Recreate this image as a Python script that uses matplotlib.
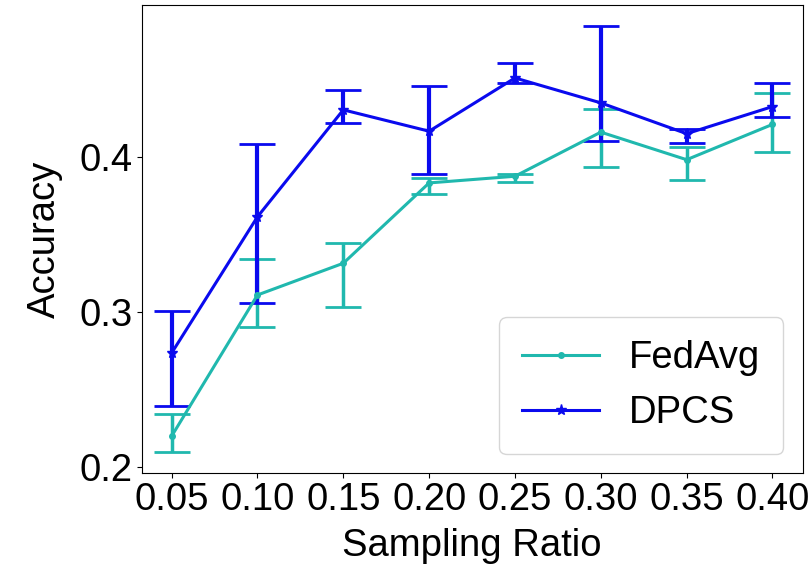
import numpy as np
import matplotlib
matplotlib.use("Agg")
import matplotlib.pyplot as plt

plt.rcParams['font.family'] = ['Liberation Sans', 'DejaVu Sans']

# sampling ratios on the x axis
ratio = [0.05, 0.10, 0.15, 0.20, 0.25, 0.30, 0.35, 0.40]

# FedAvg: mean accuracy with lower / upper ends of the error bars
fedavg_mean = [0.2197, 0.3109, 0.3314, 0.3833, 0.3876, 0.4161, 0.3983, 0.4211]
fedavg_low = [0.2094, 0.2905, 0.3034, 0.3764, 0.3839, 0.3936, 0.3850, 0.4032]
fedavg_high = [0.2341, 0.3339, 0.3442, 0.3867, 0.3893, 0.4312, 0.4064, 0.4417]

# DPCS
dpcs_mean = [0.2734, 0.3614, 0.4305, 0.4167, 0.4511, 0.4350, 0.4151, 0.4326]
dpcs_low = [0.2390, 0.3056, 0.4223, 0.3893, 0.4479, 0.4103, 0.4090, 0.4258]
dpcs_high = [0.3008, 0.4082, 0.4434, 0.4457, 0.4608, 0.4844, 0.4180, 0.4479]

fedavg_mean = np.array(fedavg_mean)
dpcs_mean = np.array(dpcs_mean)
fedavg_err = [fedavg_mean - np.array(fedavg_low), np.array(fedavg_high) - fedavg_mean]
dpcs_err = [dpcs_mean - np.array(dpcs_low), np.array(dpcs_high) - dpcs_mean]

fig = plt.figure(figsize=(8.09, 5.69), dpi=100)
ax = fig.add_axes([0.175, 0.168, 0.817, 0.823])

fa = ax.errorbar(ratio, fedavg_mean, yerr=fedavg_err, color='#20b8ae', marker='.',
                 markersize=8, linewidth=2.2, elinewidth=2.5, capsize=13, capthick=2,
                 label='FedAvg')
dp = ax.errorbar(ratio, dpcs_mean, yerr=dpcs_err, color='#0a0aee', marker='*',
                 markersize=8, linewidth=2.2, elinewidth=3, capsize=13, capthick=2,
                 label='DPCS')

ax.set_xticks(ratio)
ax.set_xticklabels(['%.2f' % r for r in ratio])
ax.set_yticks([0.2, 0.3, 0.4])
ax.tick_params(labelsize=27.5, pad=3)
ax.set_xlabel('Sampling Ratio', fontsize=27.5, labelpad=7)
ax.set_ylabel('Accuracy', fontsize=27.5, labelpad=12)
# legend shows only the line + marker, not the error bars
ax.legend([fa[0], dp[0]], ['FedAvg', 'DPCS'], loc='lower right', fontsize=27.5,
          borderpad=0.6)

fig.savefig('out.png', dpi=100)
